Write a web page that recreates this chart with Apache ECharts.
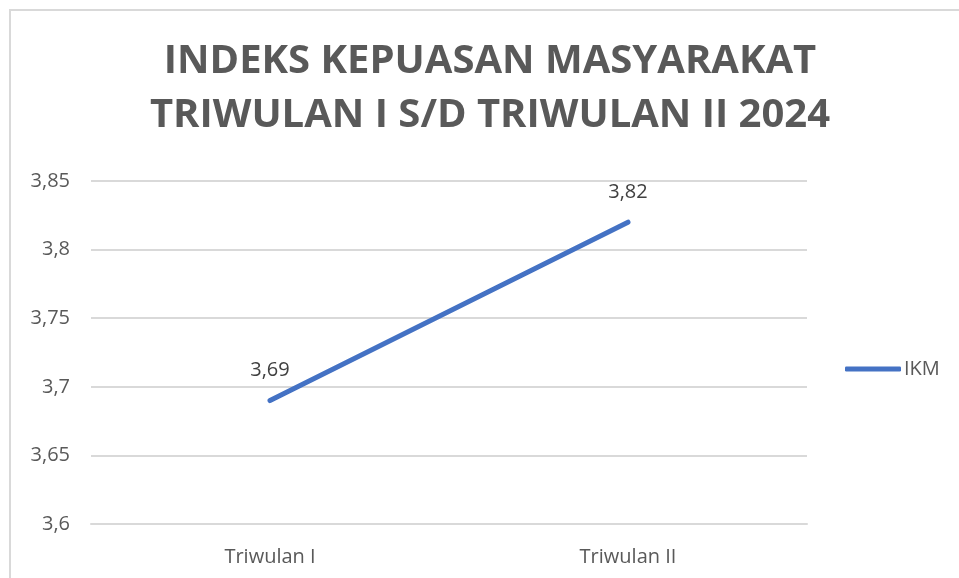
<!DOCTYPE html>
<html><head><meta charset="utf-8">
<script src="https://cdn.jsdelivr.net/npm/echarts@6/dist/echarts.min.js"></script>
<style>
html,body{margin:0;padding:0;background:#fff;}
#frame{position:absolute;left:9px;top:9px;width:960px;height:580px;border-top:2px solid #d9d9d9;border-left:2px solid #d9d9d9;box-sizing:border-box;}
#c{position:absolute;left:0;top:0;width:959px;height:578px;}
</style></head>
<body>
<div id="frame"></div>
<div id="c"></div>
<script>
const titleLines = ['INDEKS KEPUASAN MASYARAKAT', 'TRIWULAN I S/D TRIWULAN II 2024'];
const categories = ['Triwulan I', 'Triwulan II'];
const seriesName = 'IKM';
const ikmValues = [3.69, 3.82];
const yMin = 3.6, yMax = 3.85, yStep = 0.05;

const fmt = v => String(Math.round(v * 100) / 100).replace('.', ',');
const chart = echarts.init(document.getElementById('c'), null, {renderer: 'canvas'});
chart.setOption({
  backgroundColor: 'transparent',
  animation: false,
  title: {
    text: titleLines.join('\n'),
    left: 490, top: 35, textAlign: 'center', padding: 0,
    textStyle: {fontFamily: 'Open Sans', fontWeight: 'bold', fontSize: 40, color: '#595959', lineHeight: 54}
  },
  legend: {
    data: [seriesName], left: 845, top: 359, orient: 'vertical', padding: 0,
    itemWidth: 56, itemHeight: 5, itemGap: 4,
    icon: 'roundRect',
    textStyle: {fontFamily: 'Open Sans', fontSize: 20, color: '#595959', padding: [0,0,0,-2]}
  },
  grid: {left: 91, right: 152, top: 181, bottom: 54},
  xAxis: {
    type: 'category', data: categories, boundaryGap: true,
    axisLine: {show: true, lineStyle: {color: '#d9d9d9', width: 2}},
    axisTick: {show: false},
    axisLabel: {fontFamily: 'Open Sans', fontSize: 20, color: '#595959', margin: 23}
  },
  yAxis: {
    type: 'value', min: yMin, max: yMax, interval: yStep,
    axisLine: {show: false}, axisTick: {show: false},
    splitLine: {lineStyle: {color: '#d9d9d9', width: 2}},
    axisLabel: {fontFamily: 'Open Sans', fontSize: 20, color: '#595959', margin: 21, formatter: fmt}
  },
  series: [{
    name: seriesName, type: 'line', data: ikmValues,
    symbol: 'circle', symbolSize: 0.1, showSymbol: true,
    lineStyle: {color: '#4472C4', width: 5, cap: 'round'},
    itemStyle: {color: '#4472C4'},
    label: {show: true, position: 'top', distance: 20, formatter: p => fmt(p.value),
      fontFamily: 'Open Sans', fontSize: 20, color: '#404040'}
  }]
});
</script>
</body></html>
